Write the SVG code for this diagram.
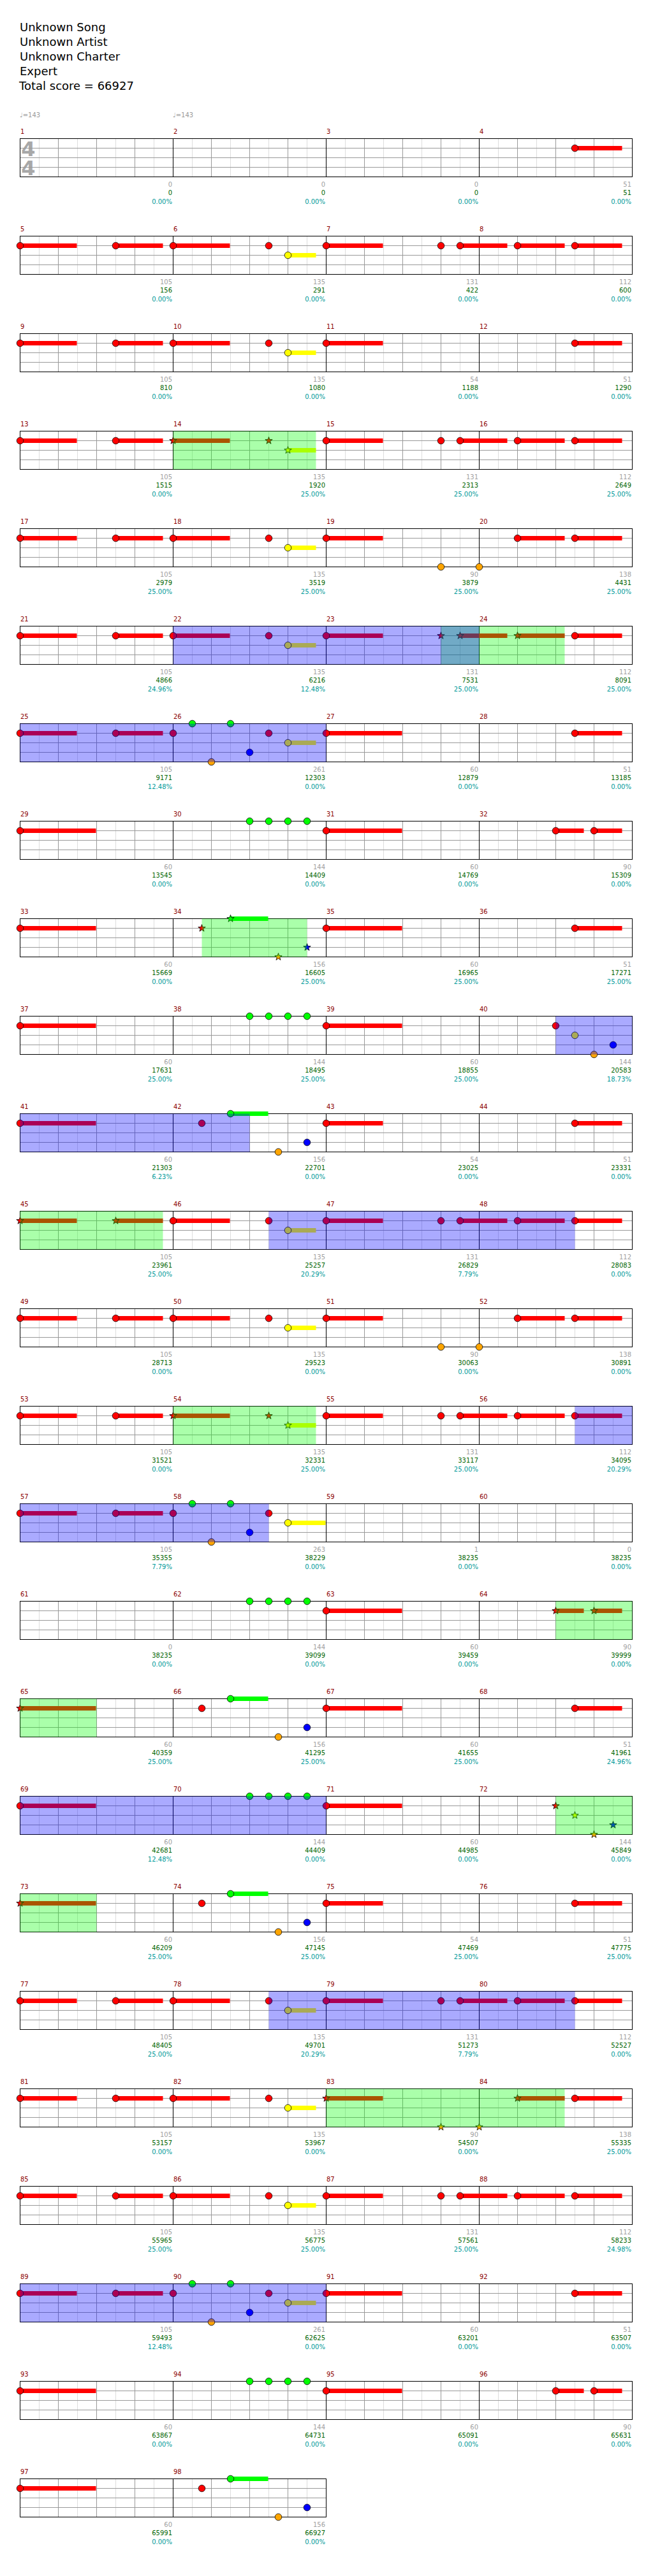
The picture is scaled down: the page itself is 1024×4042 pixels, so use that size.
<svg xmlns="http://www.w3.org/2000/svg" xmlns:xlink="http://www.w3.org/1999/xlink" width="1024" height="4042" viewBox="0 0 1024 4042">
<style>
.hd{font-family:"DejaVu Sans",sans-serif;font-size:18px;fill:#000}
.tp{font-family:"DejaVu Sans",sans-serif;font-size:10px;fill:#999}
.ts{font-family:"DejaVu Sans",sans-serif;font-weight:bold;font-size:32px;fill:#a8a8a8;text-anchor:middle}
.mn{font-family:"DejaVu Sans",sans-serif;font-size:10px;fill:#8b0000}
.a,.b,.c{font-family:"DejaVu Sans",sans-serif;font-size:10px;text-anchor:end}
.a{fill:#a0a0a0}.b{fill:#006400}.c{fill:#009999}
.sR,.sY,.sG{fill:none;stroke-width:7}
.sR{stroke:#f00}.sY{stroke:#ff0}.sG{stroke:#0f0}
.oB{fill:#00f;fill-opacity:.333}.oG{fill:#0f0;fill-opacity:.333}
.nt{stroke:#000;stroke-width:.8}
</style>
<defs>
<g id="M">
<path d="M30 0V60M90 0V60M150 0V60M210 0V60" stroke="#ddd" fill="none"/>
<path d="M60 0V60M120 0V60M180 0V60M0 15H240M0 30H240M0 45H240" stroke="#999" fill="none"/>
<rect width="240" height="60" fill="none" stroke="#000"/>
</g>
<circle id="nG" class="nt" r="5.3" fill="#0f0"/>
<circle id="nR" class="nt" r="5.3" fill="#f00"/>
<circle id="nY" class="nt" r="5.3" fill="#ff0"/>
<circle id="nB" class="nt" r="5.3" fill="#00f"/>
<circle id="nO" class="nt" r="5.3" fill="#ffa500"/>
<path id="st" d="M0 -6L1.41 -1.95L5.71 -1.85L2.28 0.75L3.53 4.85L0 2.4L-3.53 4.85L-2.28 0.75L-5.71 -1.85L-1.41 -1.95Z"/>
<use id="tG" href="#st" class="nt" fill="#0f0"/>
<use id="tR" href="#st" class="nt" fill="#f00"/>
<use id="tY" href="#st" class="nt" fill="#ff0"/>
<use id="tB" href="#st" class="nt" fill="#00f"/>
<use id="tO" href="#st" class="nt" fill="#ffa500"/>
<g id="grid4"><use href="#M" x="31.5"/><use href="#M" x="271.5"/><use href="#M" x="511.5"/><use href="#M" x="751.5"/></g>
<g id="PA">
<path class="sR" d="M31.5 15H120.5M181.5 15H255.5M271.5 15H360.5M511.5 15H600.5M721.5 15H795.5M811.5 15H885.5M901.5 15H975.5"/>
<path class="sY" d="M451.5 30H495.5"/>
<use href="#nR" x="31.5" y="15"/><use href="#nR" x="181.5" y="15"/><use href="#nR" x="271.5" y="15"/><use href="#nR" x="421.5" y="15"/><use href="#nR" x="511.5" y="15"/><use href="#nR" x="691.5" y="15"/><use href="#nR" x="721.5" y="15"/><use href="#nR" x="811.5" y="15"/><use href="#nR" x="901.5" y="15"/><use href="#nY" x="451.5" y="30"/>
</g>
<g id="PB">
<path class="sR" d="M31.5 15H120.5M181.5 15H255.5M271.5 15H360.5M511.5 15H600.5M811.5 15H885.5M901.5 15H975.5"/>
<path class="sY" d="M451.5 30H495.5"/>
<use href="#nR" x="31.5" y="15"/><use href="#nR" x="181.5" y="15"/><use href="#nR" x="271.5" y="15"/><use href="#nR" x="421.5" y="15"/><use href="#nR" x="511.5" y="15"/><use href="#nR" x="811.5" y="15"/><use href="#nR" x="901.5" y="15"/><use href="#nY" x="451.5" y="30"/><use href="#nO" x="691.5" y="60"/><use href="#nO" x="751.5" y="60"/>
</g>
<g id="PC">
<path class="sR" d="M31.5 15H120.5M181.5 15H255.5M511.5 15H630.5M901.5 15H975.5"/>
<path class="sY" d="M451.5 30H495.5"/>
<use href="#nR" x="31.5" y="15"/><use href="#nR" x="181.5" y="15"/><use href="#nR" x="271.5" y="15"/><use href="#nG" x="301.5" y="0"/><use href="#nO" x="331.5" y="60"/><use href="#nG" x="361.5" y="0"/><use href="#nB" x="391.5" y="45"/><use href="#nR" x="421.5" y="15"/><use href="#nY" x="451.5" y="30"/><use href="#nR" x="511.5" y="15"/><use href="#nR" x="901.5" y="15"/>
<rect class="oB" x="31.5" y="0" width="480" height="60"/>
</g>
<g id="PD">
<path class="sR" d="M31.5 15H150.5M511.5 15H630.5M871.5 15H915.5M931.5 15H975.5"/>
<use href="#nR" x="31.5" y="15"/><use href="#nG" x="391.5" y="0"/><use href="#nG" x="421.5" y="0"/><use href="#nG" x="451.5" y="0"/><use href="#nG" x="481.5" y="0"/><use href="#nR" x="511.5" y="15"/><use href="#nR" x="871.5" y="15"/><use href="#nR" x="931.5" y="15"/>
</g>
<g id="PE">
<path class="sR" d="M31.5 15H120.5M181.5 15H255.5M271.5 15H360.5M511.5 15H600.5M721.5 15H795.5M811.5 15H885.5M901.5 15H975.5"/>
<path class="sY" d="M451.5 30H495.5"/>
<use href="#nR" x="31.5" y="15"/><use href="#nR" x="181.5" y="15"/><use href="#tR" x="271.5" y="15"/><use href="#tR" x="421.5" y="15"/><use href="#tY" x="451.5" y="30"/><use href="#nR" x="511.5" y="15"/><use href="#nR" x="691.5" y="15"/><use href="#nR" x="721.5" y="15"/><use href="#nR" x="811.5" y="15"/><use href="#nR" x="901.5" y="15"/>
<rect class="oG" x="271.5" y="0" width="224" height="60"/>
</g>
</defs>
<rect width="1024" height="4042" fill="#fff"/>
<g id="header">
<text class="hd" x="31" y="49">Unknown Song</text>
<text class="hd" x="31" y="72">Unknown Artist</text>
<text class="hd" x="31" y="95">Unknown Charter</text>
<text class="hd" x="31" y="118">Expert</text>
<text class="hd" x="30" y="141">Total score = 66927</text>
<text class="tp" x="31" y="184">♩=143</text>
<text class="tp" x="271" y="184">♩=143</text>
</g>
<g id="row-1" transform="translate(0,217.5)">
<text class="ts" x="44.5" y="27.5">4</text><text class="ts" x="44.5" y="57.5">4</text>
<use href="#grid4"/>
<text class="mn" x="32" y="-8">1</text><text class="mn" x="272" y="-8">2</text><text class="mn" x="512" y="-8">3</text><text class="mn" x="752" y="-8">4</text>
<path class="sR" d="M901.5 15H975.5"/><use href="#nR" x="901.5" y="15"/>
<text class="a" x="270" y="75">0</text><text class="b" x="270" y="88.5">0</text><text class="c" x="270" y="102">0.00%</text>
<text class="a" x="510" y="75">0</text><text class="b" x="510" y="88.5">0</text><text class="c" x="510" y="102">0.00%</text>
<text class="a" x="750" y="75">0</text><text class="b" x="750" y="88.5">0</text><text class="c" x="750" y="102">0.00%</text>
<text class="a" x="990" y="75">51</text><text class="b" x="990" y="88.5">51</text><text class="c" x="990" y="102">0.00%</text>
</g>
<g id="row-2" transform="translate(0,370.5)">
<use href="#grid4"/>
<text class="mn" x="32" y="-8">5</text><text class="mn" x="272" y="-8">6</text><text class="mn" x="512" y="-8">7</text><text class="mn" x="752" y="-8">8</text>
<use href="#PA"/>
<text class="a" x="270" y="75">105</text><text class="b" x="270" y="88.5">156</text><text class="c" x="270" y="102">0.00%</text>
<text class="a" x="510" y="75">135</text><text class="b" x="510" y="88.5">291</text><text class="c" x="510" y="102">0.00%</text>
<text class="a" x="750" y="75">131</text><text class="b" x="750" y="88.5">422</text><text class="c" x="750" y="102">0.00%</text>
<text class="a" x="990" y="75">112</text><text class="b" x="990" y="88.5">600</text><text class="c" x="990" y="102">0.00%</text>
</g>
<g id="row-3" transform="translate(0,523.5)">
<use href="#grid4"/>
<text class="mn" x="32" y="-8">9</text><text class="mn" x="272" y="-8">10</text><text class="mn" x="512" y="-8">11</text><text class="mn" x="752" y="-8">12</text>
<path class="sR" d="M31.5 15H120.5M181.5 15H255.5M271.5 15H360.5M511.5 15H600.5M901.5 15H975.5"/>
<path class="sY" d="M451.5 30H495.5"/>
<use href="#nR" x="31.5" y="15"/><use href="#nR" x="181.5" y="15"/><use href="#nR" x="271.5" y="15"/><use href="#nR" x="421.5" y="15"/><use href="#nY" x="451.5" y="30"/><use href="#nR" x="511.5" y="15"/><use href="#nR" x="901.5" y="15"/>
<text class="a" x="270" y="75">105</text><text class="b" x="270" y="88.5">810</text><text class="c" x="270" y="102">0.00%</text>
<text class="a" x="510" y="75">135</text><text class="b" x="510" y="88.5">1080</text><text class="c" x="510" y="102">0.00%</text>
<text class="a" x="750" y="75">54</text><text class="b" x="750" y="88.5">1188</text><text class="c" x="750" y="102">0.00%</text>
<text class="a" x="990" y="75">51</text><text class="b" x="990" y="88.5">1290</text><text class="c" x="990" y="102">0.00%</text>
</g>
<g id="row-4" transform="translate(0,676.5)">
<use href="#grid4"/>
<text class="mn" x="32" y="-8">13</text><text class="mn" x="272" y="-8">14</text><text class="mn" x="512" y="-8">15</text><text class="mn" x="752" y="-8">16</text>
<use href="#PE"/>
<text class="a" x="270" y="75">105</text><text class="b" x="270" y="88.5">1515</text><text class="c" x="270" y="102">0.00%</text>
<text class="a" x="510" y="75">135</text><text class="b" x="510" y="88.5">1920</text><text class="c" x="510" y="102">25.00%</text>
<text class="a" x="750" y="75">131</text><text class="b" x="750" y="88.5">2313</text><text class="c" x="750" y="102">25.00%</text>
<text class="a" x="990" y="75">112</text><text class="b" x="990" y="88.5">2649</text><text class="c" x="990" y="102">25.00%</text>
</g>
<g id="row-5" transform="translate(0,829.5)">
<use href="#grid4"/>
<text class="mn" x="32" y="-8">17</text><text class="mn" x="272" y="-8">18</text><text class="mn" x="512" y="-8">19</text><text class="mn" x="752" y="-8">20</text>
<use href="#PB"/>
<text class="a" x="270" y="75">105</text><text class="b" x="270" y="88.5">2979</text><text class="c" x="270" y="102">25.00%</text>
<text class="a" x="510" y="75">135</text><text class="b" x="510" y="88.5">3519</text><text class="c" x="510" y="102">25.00%</text>
<text class="a" x="750" y="75">90</text><text class="b" x="750" y="88.5">3879</text><text class="c" x="750" y="102">25.00%</text>
<text class="a" x="990" y="75">138</text><text class="b" x="990" y="88.5">4431</text><text class="c" x="990" y="102">25.00%</text>
</g>
<g id="row-6" transform="translate(0,982.5)">
<use href="#grid4"/>
<text class="mn" x="32" y="-8">21</text><text class="mn" x="272" y="-8">22</text><text class="mn" x="512" y="-8">23</text><text class="mn" x="752" y="-8">24</text>
<path class="sR" d="M31.5 15H120.5M181.5 15H255.5M271.5 15H360.5M511.5 15H600.5M721.5 15H795.5M811.5 15H885.5M901.5 15H975.5"/>
<path class="sY" d="M451.5 30H495.5"/>
<use href="#nR" x="31.5" y="15"/><use href="#nR" x="181.5" y="15"/><use href="#nR" x="271.5" y="15"/><use href="#nR" x="421.5" y="15"/><use href="#nY" x="451.5" y="30"/><use href="#nR" x="511.5" y="15"/><use href="#tR" x="691.5" y="15"/><use href="#tR" x="721.5" y="15"/><use href="#tR" x="811.5" y="15"/><use href="#nR" x="901.5" y="15"/>
<rect class="oG" x="691.5" y="0" width="194" height="60"/>
<rect class="oB" x="271.5" y="0" width="480" height="60"/>
<text class="a" x="270" y="75">105</text><text class="b" x="270" y="88.5">4866</text><text class="c" x="270" y="102">24.96%</text>
<text class="a" x="510" y="75">135</text><text class="b" x="510" y="88.5">6216</text><text class="c" x="510" y="102">12.48%</text>
<text class="a" x="750" y="75">131</text><text class="b" x="750" y="88.5">7531</text><text class="c" x="750" y="102">25.00%</text>
<text class="a" x="990" y="75">112</text><text class="b" x="990" y="88.5">8091</text><text class="c" x="990" y="102">25.00%</text>
</g>
<g id="row-7" transform="translate(0,1135.5)">
<use href="#grid4"/>
<text class="mn" x="32" y="-8">25</text><text class="mn" x="272" y="-8">26</text><text class="mn" x="512" y="-8">27</text><text class="mn" x="752" y="-8">28</text>
<use href="#PC"/>
<text class="a" x="270" y="75">105</text><text class="b" x="270" y="88.5">9171</text><text class="c" x="270" y="102">12.48%</text>
<text class="a" x="510" y="75">261</text><text class="b" x="510" y="88.5">12303</text><text class="c" x="510" y="102">0.00%</text>
<text class="a" x="750" y="75">60</text><text class="b" x="750" y="88.5">12879</text><text class="c" x="750" y="102">0.00%</text>
<text class="a" x="990" y="75">51</text><text class="b" x="990" y="88.5">13185</text><text class="c" x="990" y="102">0.00%</text>
</g>
<g id="row-8" transform="translate(0,1288.5)">
<use href="#grid4"/>
<text class="mn" x="32" y="-8">29</text><text class="mn" x="272" y="-8">30</text><text class="mn" x="512" y="-8">31</text><text class="mn" x="752" y="-8">32</text>
<use href="#PD"/>
<text class="a" x="270" y="75">60</text><text class="b" x="270" y="88.5">13545</text><text class="c" x="270" y="102">0.00%</text>
<text class="a" x="510" y="75">144</text><text class="b" x="510" y="88.5">14409</text><text class="c" x="510" y="102">0.00%</text>
<text class="a" x="750" y="75">60</text><text class="b" x="750" y="88.5">14769</text><text class="c" x="750" y="102">0.00%</text>
<text class="a" x="990" y="75">90</text><text class="b" x="990" y="88.5">15309</text><text class="c" x="990" y="102">0.00%</text>
</g>
<g id="row-9" transform="translate(0,1441.5)">
<use href="#grid4"/>
<text class="mn" x="32" y="-8">33</text><text class="mn" x="272" y="-8">34</text><text class="mn" x="512" y="-8">35</text><text class="mn" x="752" y="-8">36</text>
<path class="sR" d="M31.5 15H150.5M511.5 15H630.5M901.5 15H975.5"/>
<path class="sG" d="M361.5 0H420.5"/>
<use href="#nR" x="31.5" y="15"/><use href="#tR" x="316.5" y="15"/><use href="#tG" x="361.5" y="0"/><use href="#tO" x="436.5" y="60"/><use href="#tB" x="481.5" y="45"/><use href="#nR" x="511.5" y="15"/><use href="#nR" x="901.5" y="15"/>
<rect class="oG" x="316.5" y="0" width="165" height="60"/>
<text class="a" x="270" y="75">60</text><text class="b" x="270" y="88.5">15669</text><text class="c" x="270" y="102">0.00%</text>
<text class="a" x="510" y="75">156</text><text class="b" x="510" y="88.5">16605</text><text class="c" x="510" y="102">25.00%</text>
<text class="a" x="750" y="75">60</text><text class="b" x="750" y="88.5">16965</text><text class="c" x="750" y="102">25.00%</text>
<text class="a" x="990" y="75">51</text><text class="b" x="990" y="88.5">17271</text><text class="c" x="990" y="102">25.00%</text>
</g>
<g id="row-10" transform="translate(0,1594.5)">
<use href="#grid4"/>
<text class="mn" x="32" y="-8">37</text><text class="mn" x="272" y="-8">38</text><text class="mn" x="512" y="-8">39</text><text class="mn" x="752" y="-8">40</text>
<path class="sR" d="M31.5 15H150.5M511.5 15H630.5"/>
<use href="#nR" x="31.5" y="15"/><use href="#nG" x="391.5" y="0"/><use href="#nG" x="421.5" y="0"/><use href="#nG" x="451.5" y="0"/><use href="#nG" x="481.5" y="0"/><use href="#nR" x="511.5" y="15"/><use href="#nR" x="871.5" y="15"/><use href="#nY" x="901.5" y="30"/><use href="#nO" x="931.5" y="60"/><use href="#nB" x="961.5" y="45"/>
<rect class="oB" x="871.5" y="0" width="120" height="60"/>
<text class="a" x="270" y="75">60</text><text class="b" x="270" y="88.5">17631</text><text class="c" x="270" y="102">25.00%</text>
<text class="a" x="510" y="75">144</text><text class="b" x="510" y="88.5">18495</text><text class="c" x="510" y="102">25.00%</text>
<text class="a" x="750" y="75">60</text><text class="b" x="750" y="88.5">18855</text><text class="c" x="750" y="102">25.00%</text>
<text class="a" x="990" y="75">144</text><text class="b" x="990" y="88.5">20583</text><text class="c" x="990" y="102">18.73%</text>
</g>
<g id="row-11" transform="translate(0,1747.5)">
<use href="#grid4"/>
<text class="mn" x="32" y="-8">41</text><text class="mn" x="272" y="-8">42</text><text class="mn" x="512" y="-8">43</text><text class="mn" x="752" y="-8">44</text>
<path class="sR" d="M31.5 15H150.5M511.5 15H600.5M901.5 15H975.5"/>
<path class="sG" d="M361.5 0H420.5"/>
<use href="#nR" x="31.5" y="15"/><use href="#nR" x="316.5" y="15"/><use href="#nG" x="361.5" y="0"/><use href="#nO" x="436.5" y="60"/><use href="#nB" x="481.5" y="45"/><use href="#nR" x="511.5" y="15"/><use href="#nR" x="901.5" y="15"/>
<rect class="oB" x="31.5" y="0" width="360" height="60"/>
<text class="a" x="270" y="75">60</text><text class="b" x="270" y="88.5">21303</text><text class="c" x="270" y="102">6.23%</text>
<text class="a" x="510" y="75">156</text><text class="b" x="510" y="88.5">22701</text><text class="c" x="510" y="102">0.00%</text>
<text class="a" x="750" y="75">54</text><text class="b" x="750" y="88.5">23025</text><text class="c" x="750" y="102">0.00%</text>
<text class="a" x="990" y="75">51</text><text class="b" x="990" y="88.5">23331</text><text class="c" x="990" y="102">0.00%</text>
</g>
<g id="row-12" transform="translate(0,1900.5)">
<use href="#grid4"/>
<text class="mn" x="32" y="-8">45</text><text class="mn" x="272" y="-8">46</text><text class="mn" x="512" y="-8">47</text><text class="mn" x="752" y="-8">48</text>
<path class="sR" d="M31.5 15H120.5M181.5 15H255.5M271.5 15H360.5M511.5 15H600.5M721.5 15H795.5M811.5 15H885.5M901.5 15H975.5"/>
<path class="sY" d="M451.5 30H495.5"/>
<use href="#tR" x="31.5" y="15"/><use href="#tR" x="181.5" y="15"/><use href="#nR" x="271.5" y="15"/><use href="#nR" x="421.5" y="15"/><use href="#nY" x="451.5" y="30"/><use href="#nR" x="511.5" y="15"/><use href="#nR" x="691.5" y="15"/><use href="#nR" x="721.5" y="15"/><use href="#nR" x="811.5" y="15"/><use href="#nR" x="901.5" y="15"/>
<rect class="oG" x="31.5" y="0" width="224" height="60"/>
<rect class="oB" x="421.5" y="0" width="480" height="60"/>
<text class="a" x="270" y="75">105</text><text class="b" x="270" y="88.5">23961</text><text class="c" x="270" y="102">25.00%</text>
<text class="a" x="510" y="75">135</text><text class="b" x="510" y="88.5">25257</text><text class="c" x="510" y="102">20.29%</text>
<text class="a" x="750" y="75">131</text><text class="b" x="750" y="88.5">26829</text><text class="c" x="750" y="102">7.79%</text>
<text class="a" x="990" y="75">112</text><text class="b" x="990" y="88.5">28083</text><text class="c" x="990" y="102">0.00%</text>
</g>
<g id="row-13" transform="translate(0,2053.5)">
<use href="#grid4"/>
<text class="mn" x="32" y="-8">49</text><text class="mn" x="272" y="-8">50</text><text class="mn" x="512" y="-8">51</text><text class="mn" x="752" y="-8">52</text>
<use href="#PB"/>
<text class="a" x="270" y="75">105</text><text class="b" x="270" y="88.5">28713</text><text class="c" x="270" y="102">0.00%</text>
<text class="a" x="510" y="75">135</text><text class="b" x="510" y="88.5">29523</text><text class="c" x="510" y="102">0.00%</text>
<text class="a" x="750" y="75">90</text><text class="b" x="750" y="88.5">30063</text><text class="c" x="750" y="102">0.00%</text>
<text class="a" x="990" y="75">138</text><text class="b" x="990" y="88.5">30891</text><text class="c" x="990" y="102">0.00%</text>
</g>
<g id="row-14" transform="translate(0,2206.5)">
<use href="#grid4"/>
<text class="mn" x="32" y="-8">53</text><text class="mn" x="272" y="-8">54</text><text class="mn" x="512" y="-8">55</text><text class="mn" x="752" y="-8">56</text>
<use href="#PE"/>
<rect class="oB" x="901.5" y="0" width="90" height="60"/>
<text class="a" x="270" y="75">105</text><text class="b" x="270" y="88.5">31521</text><text class="c" x="270" y="102">0.00%</text>
<text class="a" x="510" y="75">135</text><text class="b" x="510" y="88.5">32331</text><text class="c" x="510" y="102">25.00%</text>
<text class="a" x="750" y="75">131</text><text class="b" x="750" y="88.5">33117</text><text class="c" x="750" y="102">25.00%</text>
<text class="a" x="990" y="75">112</text><text class="b" x="990" y="88.5">34095</text><text class="c" x="990" y="102">20.29%</text>
</g>
<g id="row-15" transform="translate(0,2359.5)">
<use href="#grid4"/>
<text class="mn" x="32" y="-8">57</text><text class="mn" x="272" y="-8">58</text><text class="mn" x="512" y="-8">59</text><text class="mn" x="752" y="-8">60</text>
<path class="sR" d="M31.5 15H120.5M181.5 15H255.5"/>
<path class="sY" d="M451.5 30H510.5"/>
<use href="#nR" x="31.5" y="15"/><use href="#nR" x="181.5" y="15"/><use href="#nR" x="271.5" y="15"/><use href="#nG" x="301.5" y="0"/><use href="#nO" x="331.5" y="60"/><use href="#nG" x="361.5" y="0"/><use href="#nB" x="391.5" y="45"/><use href="#nR" x="421.5" y="15"/><use href="#nY" x="451.5" y="30"/>
<rect class="oB" x="31.5" y="0" width="390" height="60"/>
<text class="a" x="270" y="75">105</text><text class="b" x="270" y="88.5">35355</text><text class="c" x="270" y="102">7.79%</text>
<text class="a" x="510" y="75">263</text><text class="b" x="510" y="88.5">38229</text><text class="c" x="510" y="102">0.00%</text>
<text class="a" x="750" y="75">1</text><text class="b" x="750" y="88.5">38235</text><text class="c" x="750" y="102">0.00%</text>
<text class="a" x="990" y="75">0</text><text class="b" x="990" y="88.5">38235</text><text class="c" x="990" y="102">0.00%</text>
</g>
<g id="row-16" transform="translate(0,2512.5)">
<use href="#grid4"/>
<text class="mn" x="32" y="-8">61</text><text class="mn" x="272" y="-8">62</text><text class="mn" x="512" y="-8">63</text><text class="mn" x="752" y="-8">64</text>
<path class="sR" d="M511.5 15H630.5M871.5 15H915.5M931.5 15H975.5"/>
<use href="#nG" x="391.5" y="0"/><use href="#nG" x="421.5" y="0"/><use href="#nG" x="451.5" y="0"/><use href="#nG" x="481.5" y="0"/><use href="#nR" x="511.5" y="15"/><use href="#tR" x="871.5" y="15"/><use href="#tR" x="931.5" y="15"/>
<rect class="oG" x="871.5" y="0" width="120" height="60"/>
<text class="a" x="270" y="75">0</text><text class="b" x="270" y="88.5">38235</text><text class="c" x="270" y="102">0.00%</text>
<text class="a" x="510" y="75">144</text><text class="b" x="510" y="88.5">39099</text><text class="c" x="510" y="102">0.00%</text>
<text class="a" x="750" y="75">60</text><text class="b" x="750" y="88.5">39459</text><text class="c" x="750" y="102">0.00%</text>
<text class="a" x="990" y="75">90</text><text class="b" x="990" y="88.5">39999</text><text class="c" x="990" y="102">0.00%</text>
</g>
<g id="row-17" transform="translate(0,2665.5)">
<use href="#grid4"/>
<text class="mn" x="32" y="-8">65</text><text class="mn" x="272" y="-8">66</text><text class="mn" x="512" y="-8">67</text><text class="mn" x="752" y="-8">68</text>
<path class="sR" d="M31.5 15H150.5M511.5 15H630.5M901.5 15H975.5"/>
<path class="sG" d="M361.5 0H420.5"/>
<use href="#tR" x="31.5" y="15"/><use href="#nR" x="316.5" y="15"/><use href="#nG" x="361.5" y="0"/><use href="#nO" x="436.5" y="60"/><use href="#nB" x="481.5" y="45"/><use href="#nR" x="511.5" y="15"/><use href="#nR" x="901.5" y="15"/>
<rect class="oG" x="31.5" y="0" width="120" height="60"/>
<text class="a" x="270" y="75">60</text><text class="b" x="270" y="88.5">40359</text><text class="c" x="270" y="102">25.00%</text>
<text class="a" x="510" y="75">156</text><text class="b" x="510" y="88.5">41295</text><text class="c" x="510" y="102">25.00%</text>
<text class="a" x="750" y="75">60</text><text class="b" x="750" y="88.5">41655</text><text class="c" x="750" y="102">25.00%</text>
<text class="a" x="990" y="75">51</text><text class="b" x="990" y="88.5">41961</text><text class="c" x="990" y="102">24.96%</text>
</g>
<g id="row-18" transform="translate(0,2818.5)">
<use href="#grid4"/>
<text class="mn" x="32" y="-8">69</text><text class="mn" x="272" y="-8">70</text><text class="mn" x="512" y="-8">71</text><text class="mn" x="752" y="-8">72</text>
<path class="sR" d="M31.5 15H150.5M511.5 15H630.5"/>
<use href="#nR" x="31.5" y="15"/><use href="#nG" x="391.5" y="0"/><use href="#nG" x="421.5" y="0"/><use href="#nG" x="451.5" y="0"/><use href="#nG" x="481.5" y="0"/><use href="#nR" x="511.5" y="15"/><use href="#tR" x="871.5" y="15"/><use href="#tY" x="901.5" y="30"/><use href="#tO" x="931.5" y="60"/><use href="#tB" x="961.5" y="45"/>
<rect class="oB" x="31.5" y="0" width="480" height="60"/>
<rect class="oG" x="871.5" y="0" width="120" height="60"/>
<text class="a" x="270" y="75">60</text><text class="b" x="270" y="88.5">42681</text><text class="c" x="270" y="102">12.48%</text>
<text class="a" x="510" y="75">144</text><text class="b" x="510" y="88.5">44409</text><text class="c" x="510" y="102">0.00%</text>
<text class="a" x="750" y="75">60</text><text class="b" x="750" y="88.5">44985</text><text class="c" x="750" y="102">0.00%</text>
<text class="a" x="990" y="75">144</text><text class="b" x="990" y="88.5">45849</text><text class="c" x="990" y="102">0.00%</text>
</g>
<g id="row-19" transform="translate(0,2971.5)">
<use href="#grid4"/>
<text class="mn" x="32" y="-8">73</text><text class="mn" x="272" y="-8">74</text><text class="mn" x="512" y="-8">75</text><text class="mn" x="752" y="-8">76</text>
<path class="sR" d="M31.5 15H150.5M511.5 15H600.5M901.5 15H975.5"/>
<path class="sG" d="M361.5 0H420.5"/>
<use href="#tR" x="31.5" y="15"/><use href="#nR" x="316.5" y="15"/><use href="#nG" x="361.5" y="0"/><use href="#nO" x="436.5" y="60"/><use href="#nB" x="481.5" y="45"/><use href="#nR" x="511.5" y="15"/><use href="#nR" x="901.5" y="15"/>
<rect class="oG" x="31.5" y="0" width="120" height="60"/>
<text class="a" x="270" y="75">60</text><text class="b" x="270" y="88.5">46209</text><text class="c" x="270" y="102">25.00%</text>
<text class="a" x="510" y="75">156</text><text class="b" x="510" y="88.5">47145</text><text class="c" x="510" y="102">25.00%</text>
<text class="a" x="750" y="75">54</text><text class="b" x="750" y="88.5">47469</text><text class="c" x="750" y="102">25.00%</text>
<text class="a" x="990" y="75">51</text><text class="b" x="990" y="88.5">47775</text><text class="c" x="990" y="102">25.00%</text>
</g>
<g id="row-20" transform="translate(0,3124.5)">
<use href="#grid4"/>
<text class="mn" x="32" y="-8">77</text><text class="mn" x="272" y="-8">78</text><text class="mn" x="512" y="-8">79</text><text class="mn" x="752" y="-8">80</text>
<use href="#PA"/>
<rect class="oB" x="421.5" y="0" width="480" height="60"/>
<text class="a" x="270" y="75">105</text><text class="b" x="270" y="88.5">48405</text><text class="c" x="270" y="102">25.00%</text>
<text class="a" x="510" y="75">135</text><text class="b" x="510" y="88.5">49701</text><text class="c" x="510" y="102">20.29%</text>
<text class="a" x="750" y="75">131</text><text class="b" x="750" y="88.5">51273</text><text class="c" x="750" y="102">7.79%</text>
<text class="a" x="990" y="75">112</text><text class="b" x="990" y="88.5">52527</text><text class="c" x="990" y="102">0.00%</text>
</g>
<g id="row-21" transform="translate(0,3277.5)">
<use href="#grid4"/>
<text class="mn" x="32" y="-8">81</text><text class="mn" x="272" y="-8">82</text><text class="mn" x="512" y="-8">83</text><text class="mn" x="752" y="-8">84</text>
<path class="sR" d="M31.5 15H120.5M181.5 15H255.5M271.5 15H360.5M511.5 15H600.5M811.5 15H885.5M901.5 15H975.5"/>
<path class="sY" d="M451.5 30H495.5"/>
<use href="#nR" x="31.5" y="15"/><use href="#nR" x="181.5" y="15"/><use href="#nR" x="271.5" y="15"/><use href="#nR" x="421.5" y="15"/><use href="#nY" x="451.5" y="30"/><use href="#tR" x="511.5" y="15"/><use href="#tO" x="691.5" y="60"/><use href="#tO" x="751.5" y="60"/><use href="#tR" x="811.5" y="15"/><use href="#nR" x="901.5" y="15"/>
<rect class="oG" x="511.5" y="0" width="374" height="60"/>
<text class="a" x="270" y="75">105</text><text class="b" x="270" y="88.5">53157</text><text class="c" x="270" y="102">0.00%</text>
<text class="a" x="510" y="75">135</text><text class="b" x="510" y="88.5">53967</text><text class="c" x="510" y="102">0.00%</text>
<text class="a" x="750" y="75">90</text><text class="b" x="750" y="88.5">54507</text><text class="c" x="750" y="102">0.00%</text>
<text class="a" x="990" y="75">138</text><text class="b" x="990" y="88.5">55335</text><text class="c" x="990" y="102">25.00%</text>
</g>
<g id="row-22" transform="translate(0,3430.5)">
<use href="#grid4"/>
<text class="mn" x="32" y="-8">85</text><text class="mn" x="272" y="-8">86</text><text class="mn" x="512" y="-8">87</text><text class="mn" x="752" y="-8">88</text>
<use href="#PA"/>
<text class="a" x="270" y="75">105</text><text class="b" x="270" y="88.5">55965</text><text class="c" x="270" y="102">25.00%</text>
<text class="a" x="510" y="75">135</text><text class="b" x="510" y="88.5">56775</text><text class="c" x="510" y="102">25.00%</text>
<text class="a" x="750" y="75">131</text><text class="b" x="750" y="88.5">57561</text><text class="c" x="750" y="102">25.00%</text>
<text class="a" x="990" y="75">112</text><text class="b" x="990" y="88.5">58233</text><text class="c" x="990" y="102">24.98%</text>
</g>
<g id="row-23" transform="translate(0,3583.5)">
<use href="#grid4"/>
<text class="mn" x="32" y="-8">89</text><text class="mn" x="272" y="-8">90</text><text class="mn" x="512" y="-8">91</text><text class="mn" x="752" y="-8">92</text>
<use href="#PC"/>
<text class="a" x="270" y="75">105</text><text class="b" x="270" y="88.5">59493</text><text class="c" x="270" y="102">12.48%</text>
<text class="a" x="510" y="75">261</text><text class="b" x="510" y="88.5">62625</text><text class="c" x="510" y="102">0.00%</text>
<text class="a" x="750" y="75">60</text><text class="b" x="750" y="88.5">63201</text><text class="c" x="750" y="102">0.00%</text>
<text class="a" x="990" y="75">51</text><text class="b" x="990" y="88.5">63507</text><text class="c" x="990" y="102">0.00%</text>
</g>
<g id="row-24" transform="translate(0,3736.5)">
<use href="#grid4"/>
<text class="mn" x="32" y="-8">93</text><text class="mn" x="272" y="-8">94</text><text class="mn" x="512" y="-8">95</text><text class="mn" x="752" y="-8">96</text>
<use href="#PD"/>
<text class="a" x="270" y="75">60</text><text class="b" x="270" y="88.5">63867</text><text class="c" x="270" y="102">0.00%</text>
<text class="a" x="510" y="75">144</text><text class="b" x="510" y="88.5">64731</text><text class="c" x="510" y="102">0.00%</text>
<text class="a" x="750" y="75">60</text><text class="b" x="750" y="88.5">65091</text><text class="c" x="750" y="102">0.00%</text>
<text class="a" x="990" y="75">90</text><text class="b" x="990" y="88.5">65631</text><text class="c" x="990" y="102">0.00%</text>
</g>
<g id="row-25" transform="translate(0,3889.5)">
<use href="#M" x="31.5"/><use href="#M" x="271.5"/>
<text class="mn" x="32" y="-8">97</text><text class="mn" x="272" y="-8">98</text>
<path class="sR" d="M31.5 15H150.5"/>
<path class="sG" d="M361.5 0H420.5"/>
<use href="#nR" x="31.5" y="15"/><use href="#nR" x="316.5" y="15"/><use href="#nG" x="361.5" y="0"/><use href="#nO" x="436.5" y="60"/><use href="#nB" x="481.5" y="45"/>
<text class="a" x="270" y="75">60</text><text class="b" x="270" y="88.5">65991</text><text class="c" x="270" y="102">0.00%</text>
<text class="a" x="510" y="75">156</text><text class="b" x="510" y="88.5">66927</text><text class="c" x="510" y="102">0.00%</text>
</g>
</svg>
